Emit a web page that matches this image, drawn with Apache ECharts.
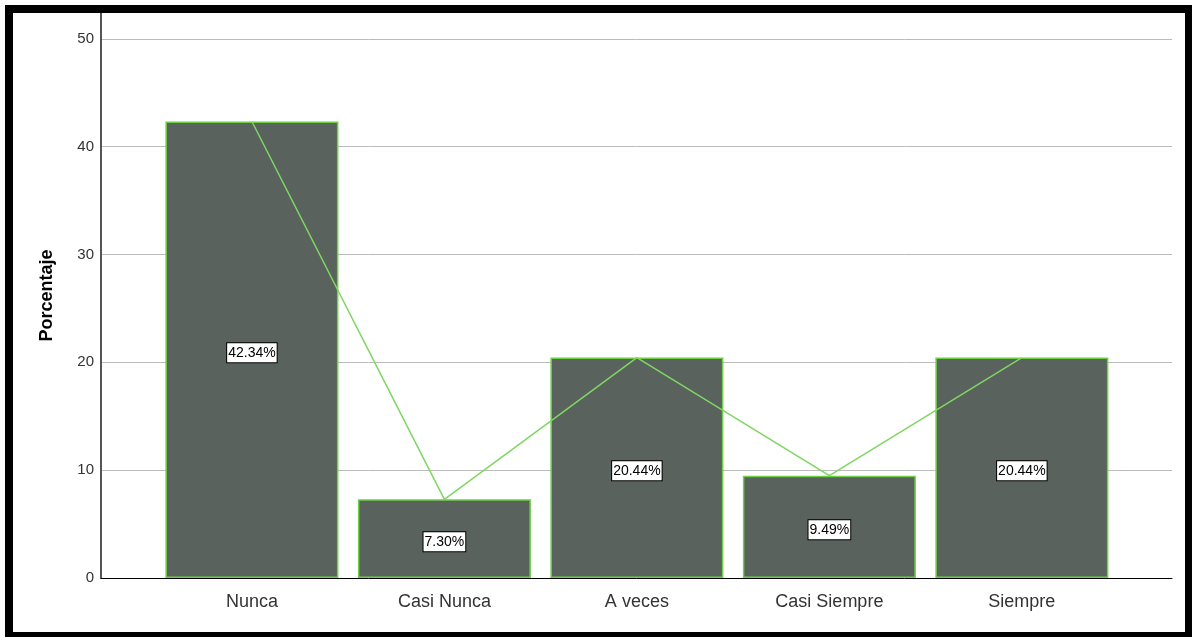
<!DOCTYPE html>
<html>
<head>
    <meta charset="utf-8" />
    <script src="https://cdn.jsdelivr.net/npm/echarts@6.0.0/dist/echarts.min.js"></script>
    <style>
        body { margin: 0; background: #fff; }
        #chart { width: 1192px; height: 637px; }
    </style>
</head>
<body>
    <div id="chart"></div>
<script type="text/javascript">
    // categorias y porcentajes
    var categories = ['Nunca', 'Casi Nunca', 'A veces', 'Casi Siempre', 'Siempre'];
    var percentages = [42.34, 7.30, 20.44, 9.49, 20.44];
    var yTicks = [0, 10, 20, 30, 40, 50];

    var points = categories.map(function (c, i) { return [i, percentages[i]]; });

    var chart = echarts.init(document.getElementById('chart'));
    var option = {
        animation: false,
        backgroundColor: '#fff',
        grid: { left: 101, right: 20, top: 13, bottom: 59 },
        xAxis: {
            type: 'value',
            min: -0.784,
            max: 4.78,
            splitLine: { show: false },
            axisLine: { show: true, onZero: false, lineStyle: { color: '#000', width: 1 } },
            axisTick: { show: false },
            axisLabel: {
                customValues: [0, 1, 2, 3, 4],
                formatter: function (v) { return categories[Math.round(v)]; },
                fontFamily: 'Liberation Sans',
                fontSize: 18,
                color: '#333',
                margin: 15
            }
        },
        yAxis: {
            type: 'value',
            min: 0,
            max: 52.4,
            interval: 10,
            name: 'Porcentaje',
            nameLocation: 'middle',
            nameGap: 45,
            nameTextStyle: {
                fontFamily: 'Liberation Sans',
                fontWeight: 'bold',
                fontSize: 18,
                color: '#000'
            },
            axisLine: { show: true, onZero: false, lineStyle: { color: '#555', width: 2 } },
            axisTick: { show: false },
            axisLabel: {
                customValues: yTicks,
                fontFamily: 'Liberation Sans',
                fontSize: 15,
                color: '#333',
                margin: 7
            },
            splitLine: {
                lineStyle: {
                    color: ['#bbb', '#bbb', '#bbb', '#bbb', '#bbb', '#bbb', 'rgba(0,0,0,0)'],
                    width: 1
                }
            }
        },
        series: [
            {
                type: 'bar',
                data: points,
                barWidth: 173,
                itemStyle: {
                    color: '#59625c',
                    borderColor: '#6ccf45',
                    borderWidth: 1.5
                },
                label: {
                    show: true,
                    position: 'inside',
                    offset: [0, 3],
                    formatter: function (p) { return p.value[1].toFixed(2) + '%'; },
                    fontFamily: 'Liberation Sans',
                    fontSize: 14,
                    color: '#000',
                    backgroundColor: '#fff',
                    borderColor: '#000',
                    borderWidth: 1,
                    padding: [3, 1, 2, 1]
                }
            },
            {
                type: 'line',
                data: points,
                symbol: 'none',
                lineStyle: { color: '#7fd662', width: 1.5 },
                z: 5
            }
        ],
        graphic: [
            {
                type: 'rect',
                shape: { x: 9, y: 9, width: 1180, height: 627 },
                style: { fill: null, stroke: '#000', lineWidth: 8 },
                z: 100
            }
        ]
    };
    chart.setOption(option);
</script>
</body>
</html>
